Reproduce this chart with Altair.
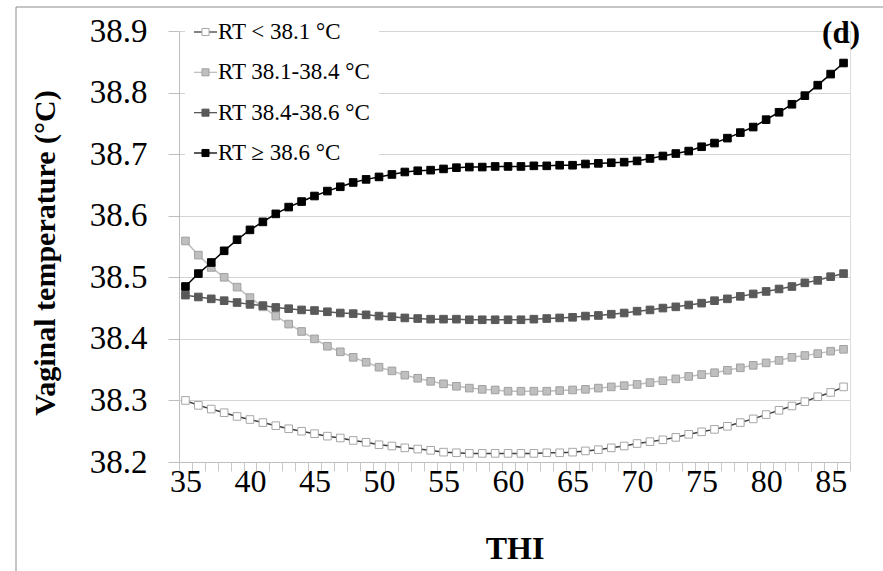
import altair as alt
import pandas as pd

# THI categories (one point per unit of THI)
thi = list(range(35, 87))

# Vaginal temperature (°C) per rectal-temperature group
rt_low = [
    38.300, 38.292, 38.286, 38.280, 38.274, 38.269, 38.264, 38.259, 38.254, 38.250,
    38.246, 38.242, 38.239, 38.235, 38.232, 38.228, 38.226, 38.223, 38.221, 38.219,
    38.216, 38.215, 38.214, 38.214, 38.214, 38.214, 38.214, 38.214, 38.215, 38.215,
    38.216, 38.218, 38.220, 38.223, 38.226, 38.230, 38.233, 38.236, 38.240, 38.245,
    38.249, 38.253, 38.258, 38.264, 38.270, 38.277, 38.284, 38.291, 38.298, 38.306,
    38.313, 38.322,
]
rt_mid = [
    38.559, 38.536, 38.516, 38.500, 38.484, 38.467, 38.452, 38.437, 38.424, 38.412,
    38.400, 38.388, 38.379, 38.370, 38.362, 38.354, 38.348, 38.341, 38.336, 38.331,
    38.327, 38.323, 38.320, 38.318, 38.317, 38.315, 38.315, 38.315, 38.315, 38.316,
    38.317, 38.318, 38.320, 38.322, 38.324, 38.326, 38.329, 38.332, 38.335, 38.339,
    38.342, 38.345, 38.349, 38.353, 38.357, 38.361, 38.365, 38.370, 38.373, 38.376,
    38.380, 38.383,
]
rt_high = [
    38.471, 38.468, 38.465, 38.462, 38.459, 38.456, 38.454, 38.451, 38.449, 38.447,
    38.446, 38.444, 38.442, 38.441, 38.439, 38.437, 38.436, 38.434, 38.433, 38.432,
    38.432, 38.432, 38.431, 38.431, 38.431, 38.431, 38.431, 38.432, 38.433, 38.434,
    38.435, 38.437, 38.438, 38.440, 38.442, 38.445, 38.447, 38.450, 38.452, 38.455,
    38.458, 38.462, 38.465, 38.469, 38.473, 38.477, 38.481, 38.485, 38.491, 38.495,
    38.501, 38.506,
]
rt_top = [
    38.485, 38.506, 38.524, 38.543, 38.561, 38.577, 38.590, 38.603, 38.614, 38.623,
    38.632, 38.640, 38.647, 38.654, 38.659, 38.663, 38.667, 38.671, 38.673, 38.674,
    38.676, 38.678, 38.679, 38.679, 38.680, 38.680, 38.680, 38.681, 38.681, 38.682,
    38.682, 38.684, 38.685, 38.686, 38.687, 38.689, 38.693, 38.697, 38.701, 38.705,
    38.712, 38.718, 38.726, 38.735, 38.744, 38.756, 38.768, 38.781, 38.795, 38.812,
    38.830, 38.848,
]

series_names = ["RT < 38.1 °C", "RT 38.1-38.4 °C", "RT 38.4-38.6 °C", "RT ≥ 38.6 °C"]
marker_fill = ["#ffffff", "#bfbfbf", "#595959", "#000000"]
marker_edge = ["#a6a6a6", "#a0a0a0", "#595959", "#000000"]
line_color = ["#404040", "#bfbfbf", "#595959", "#000000"]

y_ticks = [38.2, 38.3, 38.4, 38.5, 38.6, 38.7, 38.8, 38.9]
x_labels = [35, 40, 45, 50, 55, 60, 65, 70, 75, 80, 85]
panel_label = "(d)"

SERIF = "Liberation Serif"
W, H = 671, 431

rows = []
for order, (name, vals) in enumerate(zip(series_names, [rt_low, rt_mid, rt_high, rt_top])):
    for t, v in zip(thi, vals):
        rows.append({"THI": t, "VT": v, "Group": name, "order": order})
df = pd.DataFrame(rows)

legend_df = pd.DataFrame({"Group": series_names, "row": list(range(len(series_names)))})

# category boundaries carry the tick marks; labels sit half a category to the right
boundaries = [t - 0.5 for t in thi] + [thi[-1] + 0.5]
band = W / len(thi)
label_list = ",".join(str(v) for v in x_labels)
label_expr = (
    f"indexof([{label_list}], round(datum.value + 0.5)) >= 0 ? "
    "format(datum.value + 0.5, 'd') : ''"
)

x_scale = alt.Scale(domain=[thi[0] - 0.5, thi[-1] + 0.5], nice=False, zero=False)
y_scale = alt.Scale(domain=[y_ticks[0], y_ticks[-1]], nice=False, zero=False)

fill_scale = alt.Scale(domain=series_names, range=marker_fill)
edge_scale = alt.Scale(domain=series_names, range=marker_edge)
line_scale = alt.Scale(domain=series_names, range=line_color)

x_axis = alt.Axis(
    values=boundaries, labelExpr=label_expr, labelOffset=band / 2,
    labelFont=SERIF, labelFontSize=32, labelColor="black", labelPadding=-5,
    labelOverlap=False, labelFlush=False,
    tickSize=9, tickColor="#c8c8c8", domainColor="#bfbfbf", grid=False,
    titleFont=SERIF, titleFontSize=32, titleFontWeight="bold", titleColor="black",
    titleY=86, titleBaseline="middle",
)
y_axis = alt.Axis(
    values=y_ticks, format=".1f",
    labelFont=SERIF, labelFontSize=33, labelColor="black", labelPadding=21,
    tickSize=11, tickColor="#bfbfbf", domainColor="#bfbfbf",
    grid=True, gridColor="#d4d4d4",
    titleFont=SERIF, titleFontSize=30, titleFontWeight="bold", titleColor="black",
    titleX=-134, titleY=H / 2 + 6, titleAlign="center", titleBaseline="middle",
)

x_enc = alt.X("THI:Q", scale=x_scale, axis=x_axis, title="THI")

base = alt.Chart(df)

lines = base.mark_line(strokeWidth=1.5).encode(
    x=x_enc,
    y=alt.Y("VT:Q", scale=y_scale, axis=y_axis, title="Vaginal temperature (°C)"),
    color=alt.Color("Group:N", scale=line_scale, legend=None),
    order="THI:Q",
)

points = base.mark_square(size=58, strokeWidth=1, opacity=1).encode(
    x=x_enc,
    y=alt.Y("VT:Q", scale=y_scale, axis=None),
    fill=alt.Fill("Group:N", scale=fill_scale, legend=None),
    stroke=alt.Stroke("Group:N", scale=edge_scale, legend=None),
    order="order:Q",
)

# legend block in the upper-left corner of the plot
row_y = alt.Y("row:Q", scale=alt.Scale(domain=[0, len(series_names) - 1], range=[1, 122]), axis=None)
leg = alt.Chart(legend_df)

leg_box = alt.Chart(alt.Data(values=[{"k": 0}])).mark_rect(color="white").encode(
    x=alt.value(6), x2=alt.value(200), y=alt.value(-20), y2=alt.value(140)
)
leg_line = leg.mark_rule(strokeWidth=1.3).encode(
    x=alt.value(15), x2=alt.value(38), y=row_y,
    color=alt.Color("Group:N", scale=line_scale, legend=None),
)
leg_mark = leg.mark_square(size=50, strokeWidth=1, opacity=1).encode(
    x=alt.value(26.5), y=row_y,
    fill=alt.Fill("Group:N", scale=fill_scale, legend=None),
    stroke=alt.Stroke("Group:N", scale=edge_scale, legend=None),
)
leg_text = leg.mark_text(
    font=SERIF, fontSize=23, color="black", align="left", baseline="middle"
).encode(x=alt.value(39), y=row_y, text="Group:N")

tag = alt.Chart(alt.Data(values=[{"label": panel_label}])).mark_text(
    font=SERIF, fontSize=31, fontWeight="bold", color="black",
    align="center", baseline="middle",
).encode(text="label:N", x=alt.value(662), y=alt.value(3))

frame = alt.Data(values=[{"k": 0}])
frame_left = alt.Chart(frame).mark_rule(color="#8c8c8c", strokeWidth=1).encode(
    x=alt.value(16 - 179), y=alt.value(7 - 31), y2=alt.value(571 - 31)
)
frame_top = alt.Chart(frame).mark_rule(color="#8c8c8c", strokeWidth=1).encode(
    x=alt.value(16 - 179), x2=alt.value(883 - 179), y=alt.value(7 - 31)
)

chart = (
    alt.layer(lines, points, leg_box, leg_line, leg_mark, leg_text, tag, frame_left, frame_top)
    .resolve_scale(y="independent")
    .properties(
        width=W, height=H,
        autosize=alt.AutoSizeParams(type="none"),
        padding={"left": 179, "top": 31, "right": 33, "bottom": 109},
    )
    .configure_view(stroke=None)
    .configure(background="white")
)

chart.save("out.html", embed_options={"renderer": "svg", "actions": False})
